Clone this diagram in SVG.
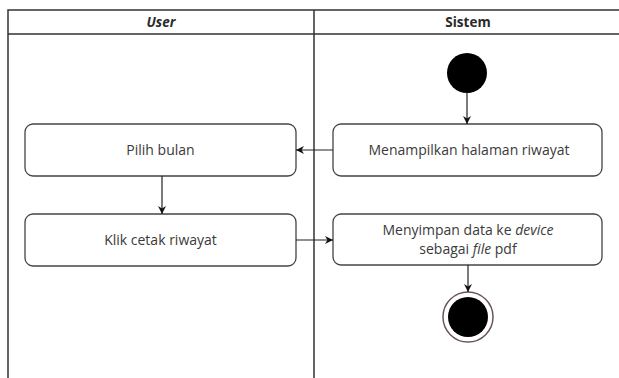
<svg xmlns="http://www.w3.org/2000/svg" width="619" height="378" viewBox="0 0 619 378">
  <style>
    .lane { fill: none; stroke: #333; stroke-width: 1.5; }
    .box { fill: #fff; stroke: #444; stroke-width: 1.3; }
    .lbl { font-family: "Open Sans", "Liberation Sans", Arial, sans-serif; font-size: 14px; fill: #3a3a3a; text-anchor: middle; }
    .hdr { font-family: "Open Sans", "Liberation Sans", Arial, sans-serif; font-size: 13.5px; font-weight: bold; fill: #2a2a2a; text-anchor: middle; }
    .edge { fill: none; stroke: #222; stroke-width: 1.2; marker-end: url(#arrow); }
  </style>
  <defs>
    <marker id="arrow" viewBox="0 0 10 10" refX="10" refY="5" markerWidth="8" markerHeight="8" markerUnits="userSpaceOnUse" orient="auto">
      <path d="M0,0 L10,5 L0,10 L3,5 Z" fill="#111"/>
    </marker>
  </defs>
  <rect width="619" height="378" fill="#fff"/>

  <!-- swimlanes -->
  <g id="lanes">
    <path class="lane" d="M8,378 V10 H625 M8,34 H625 M314,10 V378"/>
    <text class="hdr" x="161" y="27" font-style="italic">User</text>
    <text class="hdr" x="468" y="27">Sistem</text>
  </g>

  <g id="start">
    <circle cx="467" cy="73" r="20" fill="#000"/>
  </g>

  <g id="menampilkan">
    <rect class="box" x="333" y="124" width="269" height="52" rx="8"/>
    <text class="lbl" x="469" y="155">Menampilkan halaman riwayat</text>
  </g>

  <g id="pilih">
    <rect class="box" x="25" y="124" width="271" height="52" rx="8"/>
    <text class="lbl" x="160.5" y="155">Pilih bulan</text>
  </g>

  <g id="klik">
    <rect class="box" x="25" y="214" width="271" height="52" rx="8"/>
    <text class="lbl" x="160.5" y="245">Klik cetak riwayat</text>
  </g>

  <g id="menyimpan">
    <rect class="box" x="333" y="214" width="269" height="51" rx="8"/>
    <text class="lbl" x="468" y="235">Menyimpan data ke <tspan font-style="italic">device</tspan></text>
    <text class="lbl" x="468" y="254">sebagai <tspan font-style="italic">file</tspan> pdf</text>
  </g>

  <g id="end">
    <circle cx="468" cy="317" r="25" fill="#fff" stroke="#6e5555" stroke-width="1.5"/>
    <circle cx="468" cy="317" r="20" fill="#000"/>
  </g>

  <g id="connectors">
    <path class="edge" d="M467,93 V124"/>
    <path class="edge" d="M333,150 H296"/>
    <path class="edge" d="M162,176 V214"/>
    <path class="edge" d="M296,240 H333"/>
    <path class="edge" d="M468,265 V292"/>
  </g>
</svg>
